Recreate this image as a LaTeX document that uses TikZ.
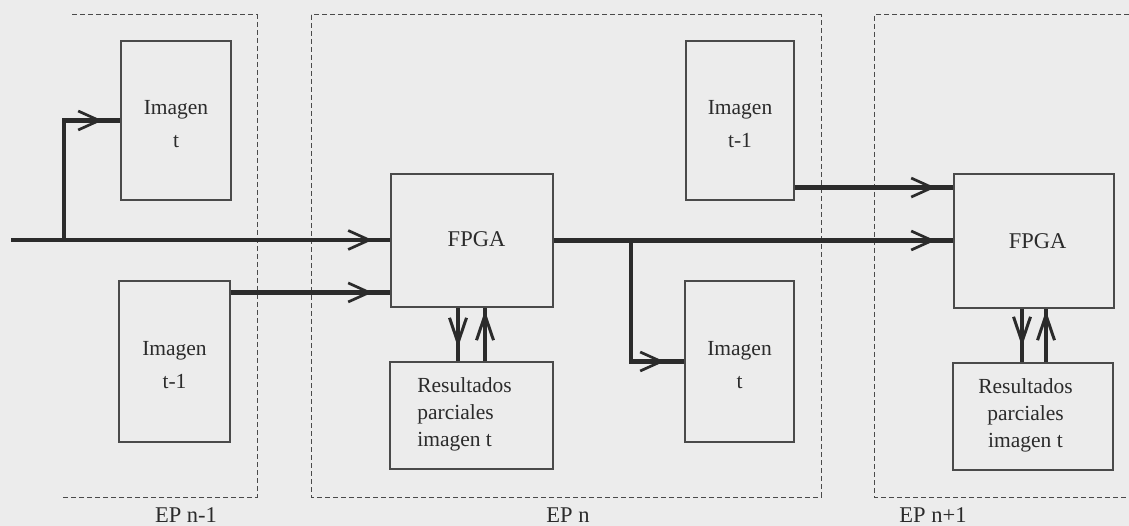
\documentclass[tikz,border=0pt]{standalone}
\usepackage{fontspec}
\setmainfont{Liberation Serif}
\usetikzlibrary{arrows.meta,decorations.markings,calc}
\definecolor{bg}{HTML}{ECECEC}
\definecolor{ink}{HTML}{2B2B2B}
\definecolor{frame}{HTML}{4A4A4A}
\newcommand\myimgfont{\fontsize{21.5pt}{33pt}\selectfont}
\newcommand\myresfont{\fontsize{21.5pt}{26.7pt}\selectfont}
\newcommand\mybigfont{\fontsize{22.5pt}{27pt}\selectfont}
\begin{document}
\begin{tikzpicture}[x=1pt,y=-1pt,
  box/.style={draw=frame, line width=1.1pt, inner sep=0pt},
  lab/.style={text=ink, align=center, font=\myimgfont, inner sep=0pt},
  reslab/.style={text=ink, font=\myresfont, inner sep=0pt},
  fpgalab/.style={text=ink, font=\mybigfont, inner sep=0pt},
  eplab/.style={text=ink, font=\mybigfont, inner sep=0pt},
  epframe/.style={draw=frame, line width=1pt, dash pattern=on 5pt off 3pt},
  base/.style={draw=ink, line width=4.3pt, postaction={decorate}},
  hconn/.style={base, decoration={markings, mark=at position -#1 with {\arrow{Straight Barb[length=21pt,width=19pt,line width=2.7pt]}}}},
  hconn/.default=18pt,
  vconn/.style={base, decoration={markings, mark=at position -#1 with {\arrow{Straight Barb[length=25pt,width=17pt,line width=3pt]}}}},
  vconn/.default=14pt
]
\fill[bg] (0,0) rectangle (1129,526);
\useasboundingbox (0,0) rectangle (1129,526);

% frames
\draw[epframe] (72,15) -- (257,15) -- (257,497) -- (63,497);
\draw[epframe] (311,15) rectangle (821,497);
\draw[epframe] (1129,15) -- (874,15) -- (874,497) -- (1129,497);

% boxes
\node[box, minimum width=110pt, minimum height=159pt,
  label={[lab, yshift=-4pt]center:Imagen\\t}] (imgTL) at (176,120.5) {};
\node[box, minimum width=111pt, minimum height=161pt,
  label={[lab, yshift=-3.5pt]center:Imagen\\t-1}] (imgBL) at (174.5,361.5) {};
\node[box, minimum width=162pt, minimum height=133pt,
  label={[fpgalab, xshift=4.5pt, yshift=1.5pt]center:FPGA}] (fpga1) at (472,240.5) {};
\node[box, minimum width=163pt, minimum height=107pt,
  label={[reslab, align=left, xshift=-7pt, yshift=1pt]center:Resultados\\parciales\\imagen t}] (res1) at (471.5,415.5) {};
\node[box, minimum width=108pt, minimum height=159pt,
  label={[lab, yshift=-3.5pt]center:Imagen\\t-1}] (imgTC) at (740,120.5) {};
\node[box, minimum width=109pt, minimum height=161pt,
  label={[lab, yshift=-3.5pt]center:Imagen\\t}] (imgBC) at (739.5,361.5) {};
\node[box, minimum width=160pt, minimum height=134pt,
  label={[fpgalab, xshift=3.5pt]center:FPGA}] (fpga2) at (1034,241) {};
\node[box, minimum width=160pt, minimum height=107pt,
  label={[reslab, align=center, xshift=-7.5pt, yshift=1pt]center:Resultados\\parciales\\imagen t}] (res2) at (1033,416.5) {};

% labels
\node[eplab] (ep1) at (186,515.5) {EP n-1};
\node[eplab] (ep2) at (568,515.5) {EP n};
\node[eplab] (ep3) at (933,515.5) {EP n+1};

% connectors
\coordinate (src) at (11,240);
\coordinate (br1) at (64,240);
\draw[hconn] (src) -- (src -| fpga1.west);
\draw[hconn] (br1) |- (imgTL.west);

\coordinate (o2) at ([yshift=-12pt]imgBL.north east);
\draw[hconn] (o2) -- (o2 -| fpga1.west);

\coordinate (o3) at (fpga1.east);
\draw[hconn] (o3) -- (o3 -| fpga2.west);
\coordinate (br2) at (631,240.5);
\draw[hconn=20pt] (br2) |- (imgBC.west);

\coordinate (o4) at ([yshift=13pt]imgTC.south east);
\draw[hconn] (o4) -- (o4 -| fpga2.west);

\coordinate (d1) at ([xshift=-14pt]fpga1.south);
\coordinate (u1) at ([xshift=13pt]fpga1.south);
\draw[vconn=14pt] (d1) -- (d1 |- res1.north);
\draw[vconn=3pt] (u1 |- res1.north) -- (u1);

\coordinate (d2) at ([xshift=-12pt]fpga2.south);
\coordinate (u2) at ([xshift=12pt]fpga2.south);
\draw[vconn=16pt] (d2) -- (d2 |- res2.north);
\draw[vconn=2pt] (u2 |- res2.north) -- (u2);
\end{tikzpicture}
\end{document}
